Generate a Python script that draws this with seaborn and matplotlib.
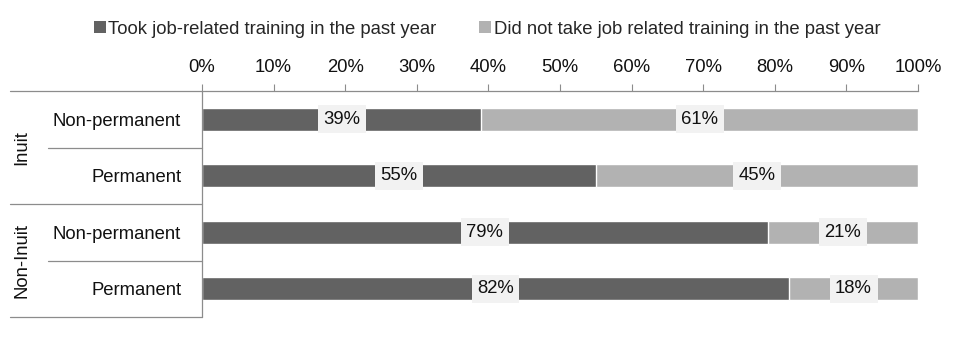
import matplotlib
matplotlib.use("Agg")
import matplotlib.pyplot as plt
import matplotlib.transforms as mtransforms
from matplotlib.lines import Line2D
from matplotlib.patches import Patch
import seaborn as sns
import pandas as pd

# Data
groups = ["Inuit", "Inuit", "Non-Inuit", "Non-Inuit"]
job_status = ["Non-permanent", "Permanent", "Non-permanent", "Permanent"]
took_training = [39, 55, 79, 82]
no_training = [61, 45, 21, 18]
series_names = ["Took job-related training in the past year",
                "Did not take job related training in the past year"]
x_ticks = [0, 10, 20, 30, 40, 50, 60, 70, 80, 90, 100]

dark = "#626262"
light = "#b2b2b2"
rule = "#8c8c8c"
ink = "#111111"
FS = 13.3

sns.set_theme(style="white")
plt.rcParams["font.family"] = ["Liberation Sans", "DejaVu Sans"]
plt.rcParams["font.size"] = FS

df = pd.DataFrame({
    "row": [f"{g}|{s}" for g, s in zip(groups, job_status)],
    "took": took_training,
    "not": no_training,
})
df["total"] = df["took"] + df["not"]

fig = plt.figure(figsize=(9.66, 3.4), dpi=100)
W, H = 966, 340
ax = fig.add_axes([202 / W, 1 - 317 / H, (918 - 202) / W, (317 - 91) / H])

sns.barplot(data=df, y="row", x="total", orient="h", color=light,
            width=0.41, saturation=1, ax=ax, order=df["row"])
sns.barplot(data=df, y="row", x="took", orient="h", color=dark,
            width=0.41, saturation=1, ax=ax, order=df["row"])

ax.set_xlim(0, 100)
ax.set_ylim(3.5, -0.5)
ax.set_xlabel("")
ax.set_ylabel("")

# Top percentage axis
ax.xaxis.set_ticks_position("top")
ax.xaxis.set_label_position("top")
ax.set_xticks(x_ticks)
ax.set_xticklabels([f"{t}%" for t in x_ticks], fontsize=FS, color=ink)
ax.tick_params(axis="x", direction="out", length=5, width=0.8, color=rule, pad=6)
ax.set_yticks(range(len(job_status)))
ax.set_yticklabels(job_status, fontsize=FS, color=ink)
ax.tick_params(axis="y", length=0, pad=15)
for side in ["bottom", "right", "left"]:
    ax.spines[side].set_visible(False)
ax.spines["top"].set_color(rule)
ax.spines["top"].set_linewidth(0.9)

# Value labels centred in each segment
for i, (t, n) in enumerate(zip(took_training, no_training)):
    for xc, v in [(t / 2, t), (t + n / 2, n)]:
        ax.text(xc, i, f"{v}%", ha="center", va="center", fontsize=FS,
                color=ink,
                bbox=dict(boxstyle="square,pad=0.3", fc="#f2f2f2", ec="none"))

# Category bracket lines in the left margin
blend = mtransforms.blended_transform_factory(fig.transFigure, ax.transData)
for yb, x0 in [(-0.5, 10), (0.5, 48), (1.5, 10), (2.5, 48), (3.5, 10)]:
    fig.add_artist(Line2D([x0 / W, 202 / W], [yb, yb], transform=blend,
                          color=rule, lw=0.9, clip_on=False))
fig.add_artist(Line2D([202 / W, 202 / W], [-0.5, 3.5], transform=blend,
                      color=rule, lw=0.9, clip_on=False))

for name, yc in [("Inuit", 0.5), ("Non-Inuit", 2.5)]:
    fig.text(22 / W, yc, name, rotation=90, ha="center", va="center",
             fontsize=FS, color=ink, transform=blend)

# Legend
handles = [Patch(facecolor=dark, edgecolor="none"),
           Patch(facecolor=light, edgecolor="none")]
fig.legend(handles, series_names, loc="center", ncol=2, frameon=False,
           bbox_to_anchor=(487 / W, 1 - 29 / H), fontsize=FS,
           handlelength=0.65, handleheight=0.65, handletextpad=0.15,
           columnspacing=2.3)

fig.savefig("out.png", dpi=100, facecolor="white")
